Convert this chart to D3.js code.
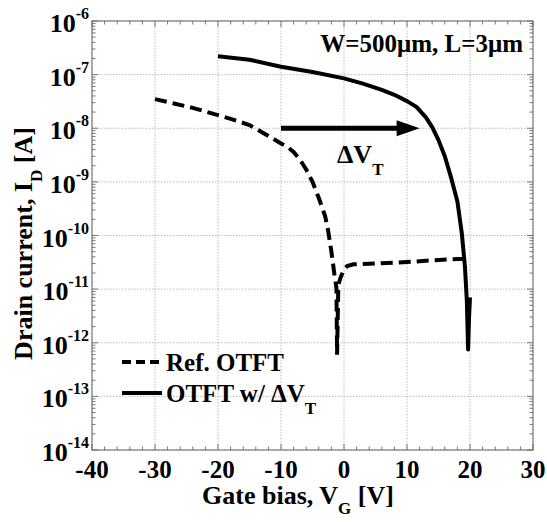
<!DOCTYPE html>
<html>
<head>
<meta charset="utf-8">
<script src="https://cdn.jsdelivr.net/npm/d3@7"></script>
<style>
  body { margin: 0; background: #fff; }
</style>
</head>
<body>
<div id="chart"></div>
<script>
const width = 547;
const height = 522;
const margin = { top: 21, right: 14, bottom: 72, left: 92 };

// Ref. OTFT (dashed)
const refVg = [-30, -27, -24, -21, -18, -15, -12, -10, -9, -8, -7, -6, -5, -4, -3, -2.5, -2, -1.5, -1.2, -1.1, -0.9, -0.5, 0, 0.5, 1.5, 5, 10, 15, 19, 19.5, 20];
const refId = [3.5e-8, 2.9e-8, 2.4e-8, 1.9e-8, 1.5e-8, 1.15e-8, 7.2e-9, 5.2e-9, 4.5e-9, 3.6e-9, 2.6e-9, 1.7e-9, 1.0e-9, 5e-10, 2.3e-10, 1.2e-10, 5e-11, 1.8e-11, 1.05e-11, 6e-13, 1.2e-11, 1.7e-11, 2.3e-11, 2.7e-11, 2.9e-11, 3.0e-11, 3.2e-11, 3.5e-11, 3.7e-11, 3.9e-11, 4.2e-11];

// OTFT w/ dVT (solid)
const shiftVg = [-20, -15, -10, -5, 0, 3, 6, 8, 10, 11.5, 13, 14, 15, 16, 17, 18, 18.7, 19.2, 19.5, 19.7, 19.85, 20];
const shiftId = [2.2e-7, 1.9e-7, 1.4e-7, 1.12e-7, 8.5e-8, 6.8e-8, 5.2e-8, 4.2e-8, 3.2e-8, 2.5e-8, 1.6e-8, 1.05e-8, 6e-9, 3e-9, 1.2e-9, 4.3e-10, 1.1e-10, 2.6e-11, 6e-12, 7.5e-13, 3e-12, 7e-12];

const xTicks = [-40, -30, -20, -10, 0, 10, 20, 30];
const yExponents = [-14, -13, -12, -11, -10, -9, -8, -7, -6];

// arrow for the threshold shift
const arrowVg = [-10, 12];
const arrowId = 1e-8;

const svg = d3.select("#chart")
  .append("svg")
  .attr("width", width)
  .attr("height", height)
  .attr("font-family", "'Liberation Serif', 'Times New Roman', Times, serif")
  .attr("font-weight", "bold");

svg.append("rect").attr("width", width).attr("height", height).attr("fill", "#fff");

const iw = width - margin.left - margin.right;
const ih = height - margin.top - margin.bottom;

var x = d3.scaleLinear().domain([-40, 30]).range([0, iw]);
var y = d3.scaleLog().domain([1e-14, 1e-6]).range([ih, 0]);

let g = svg.append("g")
  .attr("transform", "translate(" + margin.left + "," + margin.top + ")");

// grid
g.selectAll(".gx")
  .data(xTicks)
  .enter()
  .append("line")
  .attr("x1", d => x(d)).attr("x2", d => x(d))
  .attr("y1", 0).attr("y2", ih)
  .attr("stroke", "#bbb")
  .attr("stroke-dasharray", "1.5,1.5");

g.selectAll(".gy")
  .data(yExponents)
  .enter()
  .append("line")
  .attr("x1", 0).attr("x2", iw)
  .attr("y1", d => y(Math.pow(10, d))).attr("y2", d => y(Math.pow(10, d)))
  .attr("stroke", "#bbb")
  .attr("stroke-dasharray", "1.5,1.5");

// minor ticks
const xMinor = d3.range(-40, 31, 2);
const yMinor = [];
yExponents.slice(0, -1).forEach(e => {
  for (let k = 2; k <= 9; k++) yMinor.push(k * Math.pow(10, e));
});

const tickColor = "#777";
[0, ih].forEach(yy => {
  const dir = yy === 0 ? 1 : -1;
  g.selectAll(null)
    .data(xMinor)
    .enter()
    .append("line")
    .attr("x1", d => x(d)).attr("x2", d => x(d))
    .attr("y1", yy).attr("y2", d => yy + dir * (xTicks.includes(d) ? 6 : 3.5))
    .attr("stroke", tickColor);
});
[0, iw].forEach(xx => {
  const dir = xx === 0 ? 1 : -1;
  g.selectAll(null)
    .data(yMinor)
    .enter()
    .append("line")
    .attr("x1", xx).attr("x2", xx + dir * 3.5)
    .attr("y1", d => y(d)).attr("y2", d => y(d))
    .attr("stroke", tickColor);
  g.selectAll(null)
    .data(yExponents)
    .enter()
    .append("line")
    .attr("x1", xx).attr("x2", xx + dir * 6)
    .attr("y1", d => y(Math.pow(10, d))).attr("y2", d => y(Math.pow(10, d)))
    .attr("stroke", tickColor);
});

// frame
g.append("rect")
  .attr("width", iw)
  .attr("height", ih)
  .attr("fill", "none")
  .attr("stroke", "#666");

// x tick labels
g.selectAll(".xl")
  .data(xTicks)
  .enter()
  .append("text")
  .attr("x", d => x(d))
  .attr("y", ih + 28)
  .attr("text-anchor", "middle")
  .attr("font-size", 25)
  .text(d => d);

// y tick labels
let yl = g.selectAll(".yl")
  .data(yExponents)
  .enter()
  .append("text")
  .attr("x", -3)
  .attr("y", d => y(Math.pow(10, d)) + 11)
  .attr("text-anchor", "end")
  .attr("font-size", 26);
yl.append("tspan").text("10");
yl.append("tspan").attr("font-size", 16).attr("dy", -13).text(d => d);

// axis titles
let xt = svg.append("text")
  .attr("x", 298)
  .attr("y", 504)
  .attr("text-anchor", "middle")
  .attr("font-size", 26);
xt.append("tspan").text("Gate bias, V");
xt.append("tspan").attr("font-size", 17).attr("dy", 10).text("G");
xt.append("tspan").attr("dy", -10).text(" [V]");

let yt = svg.append("text")
  .attr("transform", "translate(32," + (margin.top + ih / 2 + 8) + ") rotate(-90)")
  .attr("text-anchor", "middle")
  .attr("font-size", 26);
yt.append("tspan").text("Drain current, I");
yt.append("tspan").attr("font-size", 17).attr("dy", 10).text("D");
yt.append("tspan").attr("dy", -10).text(" [A]");

// curves
var line = d3.line()
  .x(d => x(d[0]))
  .y(d => y(d[1]));

g.append("path")
  .datum(d3.zip(refVg, refId))
  .attr("fill", "none")
  .attr("stroke", "#000")
  .attr("stroke-width", 4)
  .attr("stroke-dasharray", "12,6")
  .attr("d", line);

g.append("path")
  .datum(d3.zip(shiftVg, shiftId))
  .attr("fill", "none")
  .attr("stroke", "#000")
  .attr("stroke-width", 4)
  .attr("stroke-linejoin", "round")
  .attr("d", line);

// arrow
const ax0 = x(arrowVg[0]);
const ax1 = x(arrowVg[1]);
const ay = y(arrowId);
g.append("line")
  .attr("x1", ax0).attr("x2", ax1 - 20)
  .attr("y1", ay).attr("y2", ay)
  .attr("stroke", "#000")
  .attr("stroke-width", 5);
g.append("path")
  .attr("d", "M" + ax1 + "," + ay + "L" + (ax1 - 23) + "," + (ay - 8) + "L" + (ax1 - 23) + "," + (ay + 8) + "Z")
  .attr("fill", "#000");

// dVT label
let dv = g.append("text")
  .attr("x", x(-1.1))
  .attr("y", ay + 35)
  .attr("font-size", 26);
dv.append("tspan").text("\u0394V");
dv.append("tspan").attr("font-size", 17).attr("dy", 12).text("T");

// W/L annotation
g.append("text")
  .attr("x", iw - 10)
  .attr("y", 31)
  .attr("text-anchor", "end")
  .attr("font-size", 25)
  .text("W=500\u03bcm, L=3\u03bcm");

// legend
const legend = [
  { label: "Ref. OTFT", dash: "9,5", sub: null },
  { label: "OTFT w/ \u0394V", dash: null, sub: "T" }
];
legend.forEach((d, i) => {
  const ly = 341 + i * 31;
  g.append("line")
    .attr("x1", 30).attr("x2", 70)
    .attr("y1", ly).attr("y2", ly)
    .attr("stroke", "#000")
    .attr("stroke-width", 4)
    .attr("stroke-dasharray", d.dash);
  let t = g.append("text")
    .attr("x", 74)
    .attr("y", ly + 9)
    .attr("font-size", 25);
  t.append("tspan").text(d.label);
  if (d.sub) t.append("tspan").attr("font-size", 17).attr("dy", 12).text(d.sub);
});
</script>
</body>
</html>
